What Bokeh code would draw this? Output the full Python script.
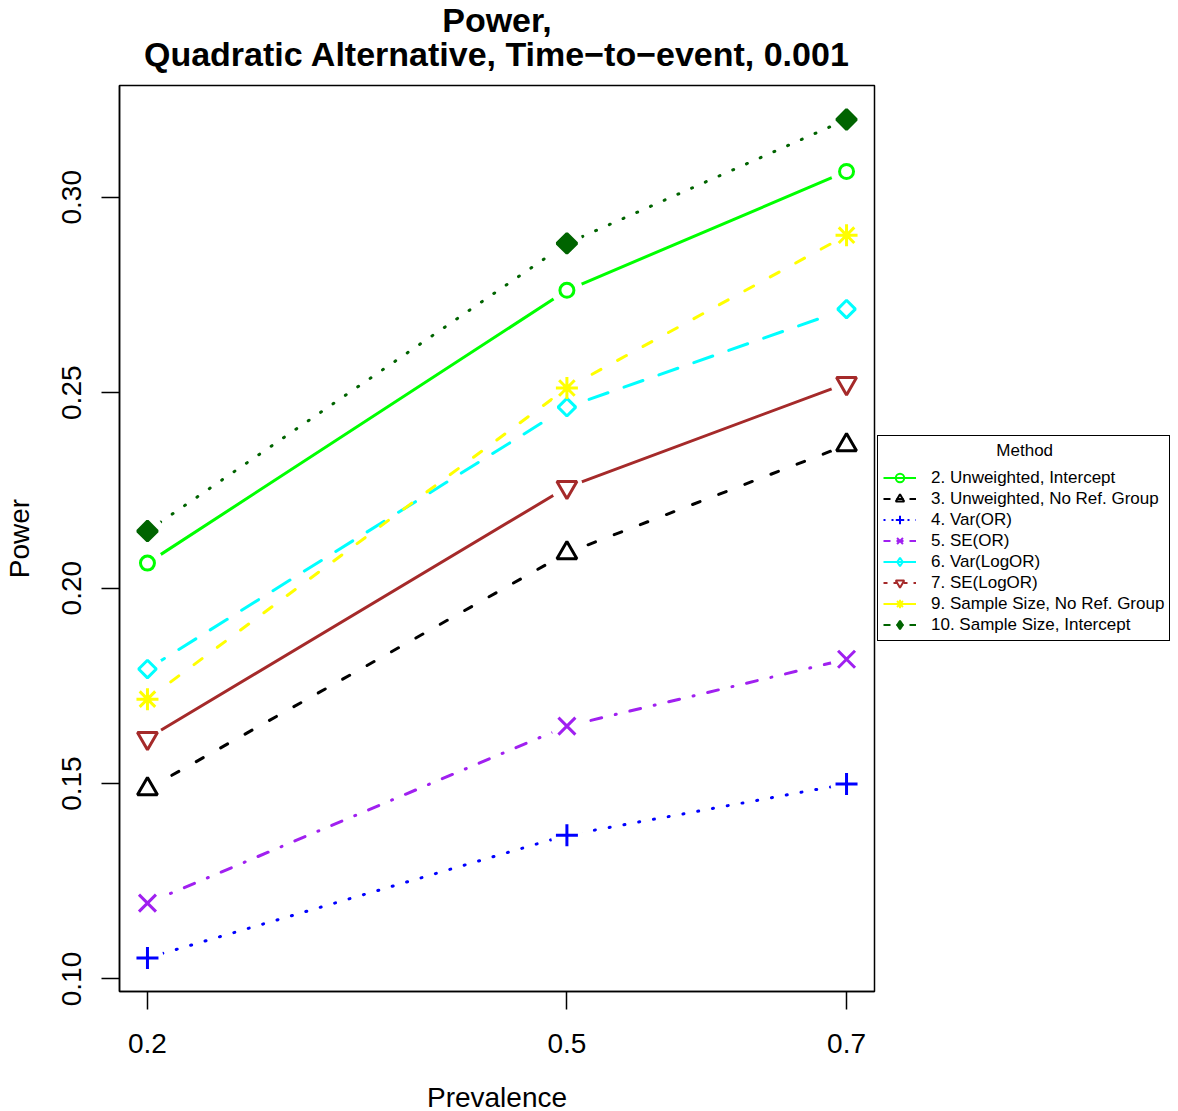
import numpy as np
from bokeh.plotting import figure
from bokeh.models import (Range1d, FixedTicker, NumeralTickFormatter, Legend,
                          LegendItem, ColumnDataSource, Title)
from bokeh.embed import file_html
from bokeh.resources import INLINE

# ---------------- data ----------------
prevalence = [0.2, 0.5, 0.7]
method_labels = ["2. Unweighted, Intercept", "3. Unweighted, No Ref. Group", "4. Var(OR)",
                 "5. SE(OR)", "6. Var(LogOR)", "7. SE(LogOR)",
                 "9. Sample Size, No Ref. Group", "10. Sample Size, Intercept"]
power_m2 = [0.2064, 0.2762, 0.3066]
power_m3 = [0.1486, 0.2090, 0.2366]
power_m4 = [0.1054, 0.1368, 0.1499]
power_m5 = [0.1194, 0.1647, 0.1818]
power_m6 = [0.1793, 0.2463, 0.2714]
power_m7 = [0.1616, 0.2258, 0.2524]
power_m9 = [0.1716, 0.2512, 0.2903]
power_m10 = [0.2146, 0.2882, 0.3199]
x_ticks = [0.2, 0.5, 0.7]
y_ticks = [0.10, 0.15, 0.20, 0.25, 0.30]

series = [power_m2, power_m3, power_m4, power_m5, power_m6, power_m7, power_m9, power_m10]

# ---------------- styles ----------------
FONT = "Liberation Sans"
colors = ["#00FF00", "#000000", "#0000FF", "#A020F0", "#00FFFF", "#A52A2A", "#FFFF00", "#006400"]
plot_dash = ["solid", "8 20", "1 14", "11 14 1 14", "20 17", "solid", "10 19", "1 14"]
legend_dash = ["solid", "7 6", "2 6", "7 6", "solid", "4 6", "solid", "7 6"]
markers = ["circle", "triangle", "cross", "x", "square", "inverted_triangle", "asterisk", "square"]
legend_markers = ["circle", "triangle", "cross", "x", "diamond", "inverted_triangle", "asterisk", "diamond"]
msizes = [14, 20, 22, 24, 12.5, 20, 22, 14]
angles = [0, 0, 0, 0, np.pi / 4, 0, 0, np.pi / 4]
filled = [False, False, False, False, False, False, False, True]

p = figure(frame_width=755, frame_height=906,
           x_range=Range1d(0.18, 0.72), y_range=Range1d(0.0968, 0.3286),
           output_backend="svg", toolbar_location=None,
           min_border_left=119, min_border_top=85, min_border_bottom=119, min_border_right=0,
           background_fill_color="white", border_fill_color="white")
p.title.visible = False

t2 = Title(text="Quadratic Alternative, Time\u2212to\u2212event, 0.001", align="center",
           text_font=FONT, text_font_style="bold", text_font_size="34px", text_color="black",
           standoff=25)
t1 = Title(text="Power,", align="center",
           text_font=FONT, text_font_style="bold", text_font_size="34px", text_color="black",
           standoff=-36)
p.add_layout(t2, "above")
p.add_layout(t1, "above")

p.xgrid.visible = False
p.ygrid.visible = False
p.outline_line_color = "black"
p.outline_line_width = 1.5
p.outline_line_alpha = 1.0

for ax in (p.xaxis[0], p.yaxis[0]):
    ax.major_tick_out = 18
    ax.major_tick_in = 0
    ax.minor_tick_out = 0
    ax.minor_tick_in = 0
    ax.major_tick_line_width = 1.5
    ax.major_tick_line_color = "black"
    ax.axis_line_color = "black"
    ax.axis_line_width = 1.5
    ax.major_label_text_font = FONT
    ax.major_label_text_font_size = "28px"
    ax.major_label_text_color = "black"
    ax.axis_label_text_font = FONT
    ax.axis_label_text_font_size = "28px"
    ax.axis_label_text_font_style = "normal"
    ax.axis_label_text_color = "black"

p.xaxis.ticker = FixedTicker(ticks=x_ticks)
p.xaxis.formatter = NumeralTickFormatter(format="0.0")
p.xaxis.axis_label = "Prevalence"
p.xaxis.major_label_standoff = 24
p.xaxis.axis_label_standoff = 26

p.yaxis.ticker = FixedTicker(ticks=y_ticks)
p.yaxis.formatter = NumeralTickFormatter(format="0.00")
p.yaxis.axis_label = "Power"
p.yaxis.major_label_orientation = "vertical"
p.yaxis.major_label_standoff = 20
p.yaxis.axis_label_standoff = 25

# lines
for ys, c, d in zip(series, colors, plot_dash):
    p.line(prevalence, ys, line_color=c, line_width=3, line_dash=d, line_cap="round")
# gaps around points (type = "b")
for ys in series:
    p.scatter(prevalence, ys, marker="circle", size=32, fill_color="white", line_color=None)
# markers
for ys, c, m, s, a, f in zip(series, colors, markers, msizes, angles, filled):
    p.scatter(prevalence, ys, marker=m, size=s, angle=a, line_color=c, line_width=3,
              fill_color=(c if f else None))

# legend (renderers with NaN data carry the legend styling only)
items = []
for lab, c, d, m, f in zip(method_labels, colors, legend_dash, legend_markers, filled):
    src = ColumnDataSource(data=dict(x=np.array([np.nan]), y=np.array([np.nan])))
    lr = p.line("x", "y", source=src, line_color=c, line_width=2, line_dash=d)
    mr = p.scatter("x", "y", source=src, marker=m, line_color=c, line_width=2,
                   fill_color=(c if f else None))
    items.append(LegendItem(label=lab, renderers=[lr, mr]))

legend_heading = "\u00a0" * 24 + "Method"   # pushed to the middle of the box
legend = Legend(items=items, location="center_left", title=legend_heading,
                title_text_font=FONT, title_text_font_size="17px", title_text_font_style="normal",
                title_text_color="black", title_standoff=6,
                label_text_font=FONT, label_text_font_size="17px", label_text_color="black",
                glyph_width=33, glyph_height=21, label_height=21, spacing=0,
                label_standoff=15, padding=5, margin=3,
                border_line_color="black", border_line_width=1.5, border_line_alpha=1.0,
                background_fill_color="white", background_fill_alpha=1.0)
p.add_layout(legend, "right")

open("out.html", "w").write(file_html(p, INLINE))
